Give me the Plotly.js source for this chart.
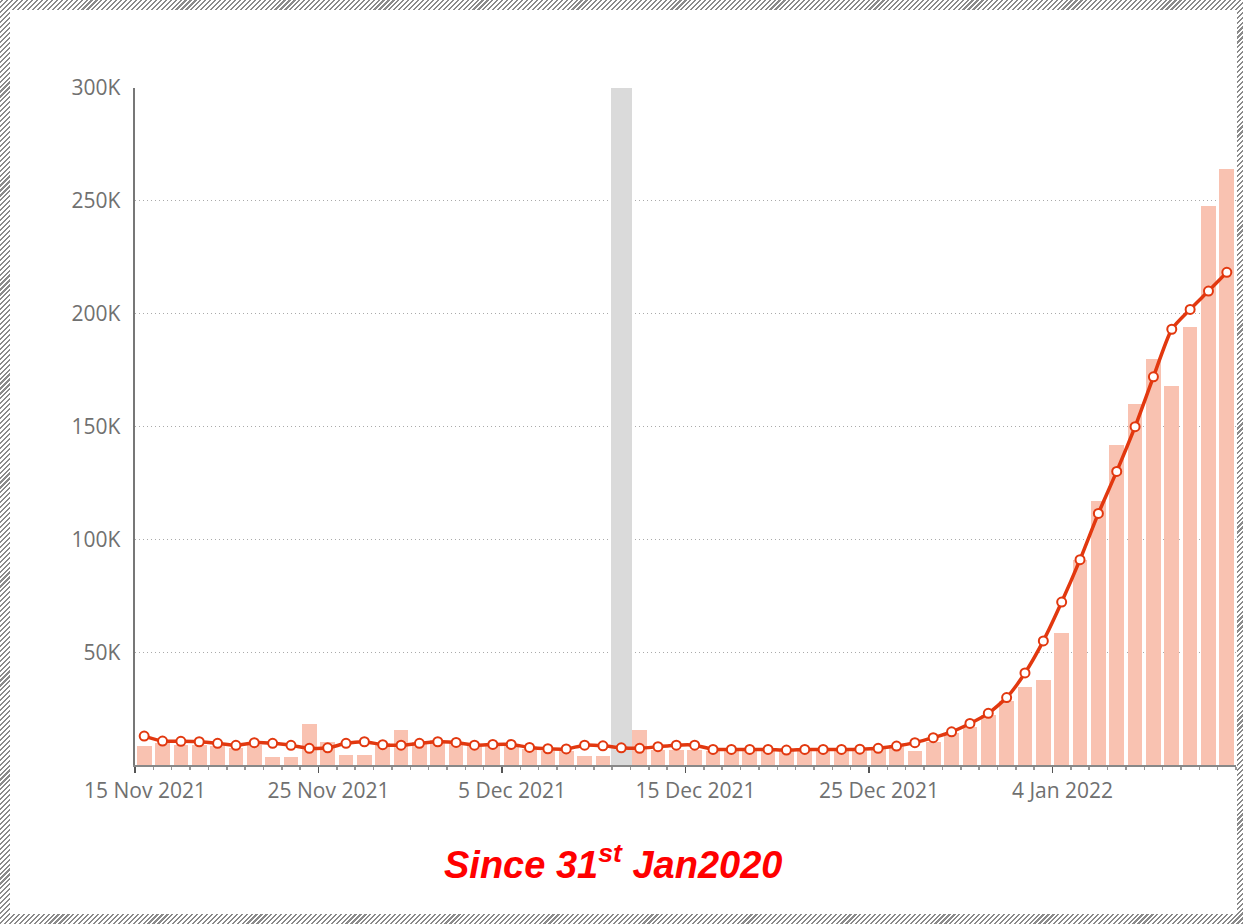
<!DOCTYPE html>
<html>
<head>
<meta charset="utf-8">
<script src="https://cdn.plot.ly/plotly-3.0.1.min.js"></script>
<style>
  html, body { margin: 0; padding: 0; width: 1243px; height: 924px; overflow: hidden; }
  #frame {
    position: absolute; left: 0; top: 0; width: 1243px; height: 924px;
    background: repeating-linear-gradient(-45deg, #8a8a8a 0px, #8a8a8a 1.5px, #ffffff 1.5px, #ffffff 3.5px);
  }
  #inner { position: absolute; left: 10px; top: 10px; width: 1227px; height: 904px; background: #ffffff; }
  #chart { position: absolute; left: 0; top: 0; width: 1243px; height: 924px; }
</style>
</head>
<body>
<div id="frame"></div>
<div id="inner"></div>
<div id="chart"></div>
<script>
// Daily dates (each bar covers one day)
const dates = [
  '2021-11-15','2021-11-16','2021-11-17','2021-11-18','2021-11-19','2021-11-20','2021-11-21','2021-11-22','2021-11-23','2021-11-24',
  '2021-11-25','2021-11-26','2021-11-27','2021-11-28','2021-11-29','2021-11-30','2021-12-01','2021-12-02','2021-12-03','2021-12-04',
  '2021-12-05','2021-12-06','2021-12-07','2021-12-08','2021-12-09','2021-12-10','2021-12-11','2021-12-12','2021-12-13','2021-12-14',
  '2021-12-15','2021-12-16','2021-12-17','2021-12-18','2021-12-19','2021-12-20','2021-12-21','2021-12-22','2021-12-23','2021-12-24',
  '2021-12-25','2021-12-26','2021-12-27','2021-12-28','2021-12-29','2021-12-30','2021-12-31','2022-01-01','2022-01-02','2022-01-03',
  '2022-01-04','2022-01-05','2022-01-06','2022-01-07','2022-01-08','2022-01-09','2022-01-10','2022-01-11','2022-01-12','2022-01-13'
];
// Daily cases (bars)
const dailyCases = [
  8400, 9600, 9000, 9000, 8300, 7700, 9000, 3700, 3700, 18100,
  10300, 4400, 4400, 9600, 15500, 10300, 10900, 10300, 8300, 8300,
  9000, 7000, 6300, 6300, 4000, 4000, 7000, 15500, 6800, 6800,
  6800, 6300, 6300, 6300, 6500, 6200, 6300, 6400, 6300, 6300,
  7500, 8800, 6300, 10300, 14000, 17000, 22000, 28500, 34400, 37600,
  58400, 91000, 117000, 142000, 160000, 180000, 168000, 194000, 247500, 264000
];
// 7-day average (line)
const avgCases = [
  12800, 10600, 10500, 10300, 9600, 8700, 9900, 9600, 8700, 7400,
  7600, 9600, 10300, 9000, 8800, 9600, 10300, 10000, 8800, 9100,
  9100, 7800, 7200, 7100, 8800, 8500, 7600, 7400, 8100, 8800,
  8800, 6900, 6900, 6900, 6900, 6600, 6900, 6900, 6900, 7000,
  7400, 8400, 9900, 12100, 14700, 18400, 22900, 29900, 40800, 55000,
  72200, 91000, 111500, 130100, 149900, 172000, 193100, 201900, 210000, 218300
];
// Highlighted day (grey band)
const highlightDates = ['2021-12-11'];
const highlightValues = [300000];

const xTickVals = ['2021-11-15','2021-11-25','2021-12-05','2021-12-15','2021-12-25','2022-01-04'];
const xTickText = ['15 Nov 2021','25 Nov 2021','5 Dec 2021','15 Dec 2021','25 Dec 2021','4 Jan 2022'];
const yTickVals = [50000, 100000, 150000, 200000, 250000, 300000];
const yTickText = ['50K','100K','150K','200K','250K','300K'];
const xRange = ['2021-11-15','2022-01-14'];
const titleText = 'Since 31<sup>st</sup> Jan2020';

const DAY = 86400000;
const lineColor = '#E2380F';

const traces = [
  {
    type: 'bar', x: dates, y: dailyCases,
    xperiod: DAY, xperiodalignment: 'middle',
    width: 0.8 * DAY,
    marker: { color: '#F9C2B1', line: { width: 0 } },
    hoverinfo: 'x+y', showlegend: false
  },
  {
    type: 'bar', x: highlightDates, y: highlightValues,
    xperiod: DAY, xperiodalignment: 'middle',
    width: 1.15 * DAY,
    marker: { color: '#DADADA', line: { width: 0 } },
    hoverinfo: 'skip', showlegend: false
  },
  {
    type: 'scatter', mode: 'lines+markers', x: dates, y: avgCases,
    xperiod: DAY, xperiodalignment: 'middle',
    line: { color: lineColor, width: 3.5, shape: 'spline', smoothing: 0.6 },
    marker: { symbol: 'circle', size: 9, color: '#ffffff', line: { color: lineColor, width: 2 } },
    showlegend: false
  }
];

const layout = {
  width: 1243, height: 924,
  margin: { l: 135, r: 7, t: 88, b: 159 },
  paper_bgcolor: 'rgba(0,0,0,0)',
  plot_bgcolor: 'rgba(0,0,0,0)',
  barmode: 'overlay',
  bargap: 0,
  showlegend: false,
  font: { family: '"Open Sans", "DejaVu Sans", sans-serif', color: '#707070', size: 21 },
  xaxis: {
    type: 'date', range: xRange,
    tickmode: 'array', tickvals: xTickVals, ticktext: xTickText,
    ticks: 'outside', ticklen: 6, tickwidth: 1.5, tickcolor: '#555555',
    ticklabelshift: 10,
    minor: { dtick: DAY, ticks: 'outside', ticklen: 3, tickcolor: '#999999', showgrid: false },
    showline: true, linecolor: '#888888', linewidth: 2,
    showgrid: false, zeroline: false,
    tickfont: { size: 21, color: '#707070' }
  },
  yaxis: {
    range: [0, 300000],
    tickmode: 'array', tickvals: yTickVals, ticktext: yTickText,
    ticks: '', showline: true, linecolor: '#777777', linewidth: 2.5,
    ticklabelstandoff: 8,
    showgrid: true, gridcolor: '#AAAAAA', griddash: '1px,3px', gridwidth: 1,
    zeroline: false,
    tickfont: { size: 21, color: '#707070' }
  },
  annotations: [{
    text: titleText, xref: 'paper', yref: 'paper', x: 0.434, y: -0.143,
    xanchor: 'center', yanchor: 'middle', showarrow: false,
    font: { family: '"Liberation Sans", Arial, sans-serif', size: 38, color: '#FF0000', weight: 'bold', style: 'italic' }
  }]
};

Plotly.newPlot('chart', traces, layout, { displayModeBar: false, staticPlot: true });
</script>
</body>
</html>
